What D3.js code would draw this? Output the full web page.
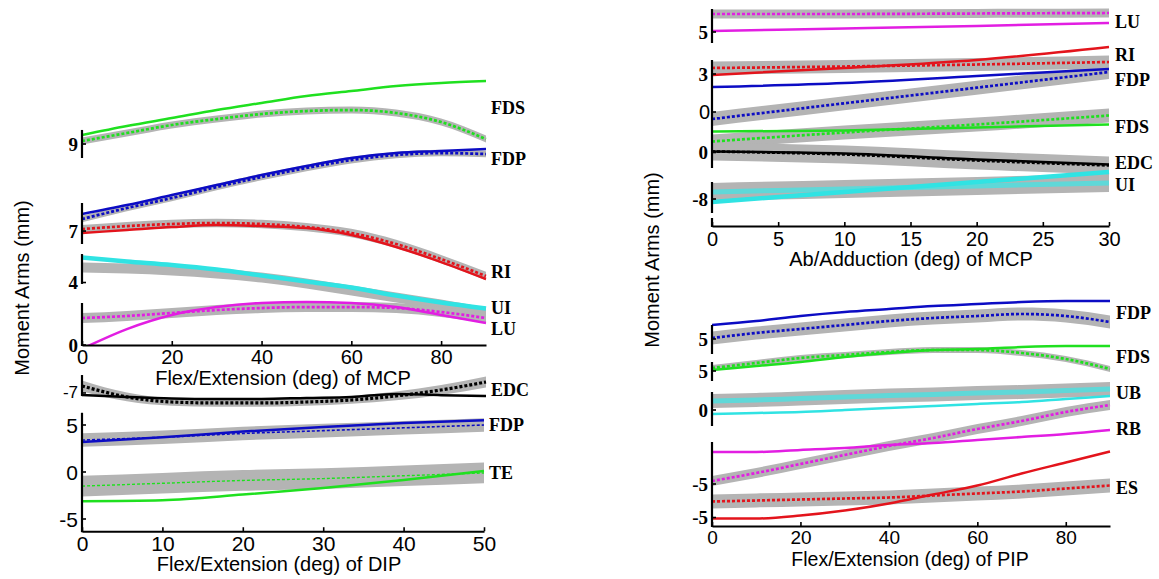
<!DOCTYPE html>
<html>
<head>
<meta charset="utf-8">
<script src="https://cdn.jsdelivr.net/npm/d3@7"></script>
<style>
  html, body { margin: 0; padding: 0; background: #fff; }
  svg { display: block; }
</style>
</head>
<body>
<svg id="chart" width="1159" height="579"></svg>
<script>
// ---------- joint angles (deg) ----------
const mcpFlexAngles = [0, 10, 20, 30, 40, 50, 60, 70, 80, 90];
const dipFlexAngles = [0, 10, 20, 30, 40, 50];
const mcpAbdAngles  = [0, 10, 20, 30];
const pipFlexAngles = [0, 10, 20, 30, 40, 50, 60, 70, 80, 90];

// ---------- MCP flexion/extension: model (solid) and measured mean (dashed) ± SD, mm ----------
const mcpFlex_FDS_model = [9.82, 10.64, 11.36, 12.09, 12.73, 13.36, 13.82, 14.27, 14.55, 14.73];
const mcpFlex_FDS_mean  = [9.27, 10.0, 10.73, 11.27, 11.73, 12.0, 12.09, 11.82, 11.0, 9.45];
const mcpFlex_FDS_sd    = 0.32;
const mcpFlex_FDP_model = [8.55, 9.36, 10.27, 11.18, 12.09, 12.91, 13.64, 14.09, 14.27, 14.45];
const mcpFlex_FDP_mean  = [8.09, 9.09, 10.0, 11.0, 11.91, 12.73, 13.45, 13.91, 14.09, 14.0];
const mcpFlex_FDP_sd    = 0.3;
const mcpFlex_RI_model  = [6.82, 7.09, 7.36, 7.55, 7.45, 7.27, 6.64, 5.55, 4.18, 2.64];
const mcpFlex_RI_mean   = [7.18, 7.45, 7.64, 7.73, 7.64, 7.36, 6.82, 5.82, 4.45, 2.91];
const mcpFlex_RI_sd     = 0.38;
const mcpFlex_UI_model  = [6.27, 5.91, 5.59, 5.18, 4.64, 4.09, 3.55, 2.82, 2.18, 1.64];
const mcpFlex_UI_mean   = [5.36, 5.27, 5.09, 4.82, 4.45, 3.91, 3.27, 2.64, 2.0, 1.27];
const mcpFlex_UI_sd     = 0.45;
const mcpFlex_LU_model  = [-0.35, 1.45, 2.73, 3.45, 3.82, 3.91, 3.82, 3.45, 2.73, 2.0];
const mcpFlex_LU_mean   = [2.45, 2.64, 2.91, 3.18, 3.36, 3.45, 3.45, 3.36, 3.0, 2.45];
const mcpFlex_LU_sd     = 0.45;
const mcpFlex_EDC_model = [-7.18, -7.36, -7.5, -7.55, -7.55, -7.45, -7.36, -7.09, -7.2, -7.27];
const mcpFlex_EDC_mean  = [-6.36, -7.36, -7.82, -7.91, -7.91, -7.82, -7.64, -7.27, -6.73, -6.0];
const mcpFlex_EDC_sd    = [0.5, 0.4, 0.35, 0.35, 0.35, 0.35, 0.35, 0.4, 0.45, 0.5];

// ---------- DIP flexion/extension ----------
const dipFlex_FDP_model = [3.2, 3.7, 4.3, 4.8, 5.2, 5.5];
const dipFlex_FDP_mean  = [3.4, 3.7, 4.1, 4.4, 4.7, 5.0];
const dipFlex_FDP_sd    = 0.72;
const dipFlex_TE_model  = [-3.1, -3.0, -2.4, -1.7, -0.85, 0.1];
const dipFlex_TE_mean   = [-1.5, -1.2, -0.9, -0.7, -0.4, -0.1];
const dipFlex_TE_sd     = 1.1;

// ---------- MCP ab/adduction ----------
const mcpAbd_LU_model  = [5.1, 5.35, 5.6, 5.9];
const mcpAbd_LU_mean   = [6.8, 6.8, 6.85, 6.9];
const mcpAbd_LU_sd     = 0.45;
const mcpAbd_RI_model  = [2.9, 3.6, 4.4, 5.7];
const mcpAbd_RI_mean   = [3.6, 3.75, 3.95, 4.2];
const mcpAbd_RI_sd     = 0.65;
const mcpAbd_FDP_model = [2.5, 2.9, 3.6, 4.3];
const mcpAbd_FDP_mean  = [-0.7, 0.87, 2.43, 4.0];
const mcpAbd_FDP_sd    = 0.7;
const mcpAbd_FDS_model = [2.1, 2.2, 2.5, 2.8];
const mcpAbd_FDS_mean  = [1.1, 2.0, 2.8, 3.7];
const mcpAbd_FDS_sd    = 0.7;
const mcpAbd_EDC_model = [0.1, -0.1, -0.7, -1.2];
const mcpAbd_EDC_mean  = [0.1, -0.2, -0.8, -1.3];
const mcpAbd_EDC_sd    = 0.9;
const mcpAbd_UI_model  = [-8.3, -7.3, -6.3, -5.3];
const mcpAbd_UI_mean   = [-7.3, -7.0, -6.7, -6.4];
const mcpAbd_UI_sd     = 0.9;

// ---------- PIP flexion/extension ----------
const pipFlex_FDP_model = [6.4, 6.8, 7.3, 7.7, 8.0, 8.3, 8.5, 8.7, 8.8, 8.8];
const pipFlex_FDP_mean  = [5.1, 5.6, 6.0, 6.4, 6.8, 7.1, 7.3, 7.5, 7.3, 6.7];
const pipFlex_FDP_sd    = 0.65;
const pipFlex_FDS_model = [5.1, 5.5, 5.9, 6.4, 6.8, 7.1, 7.2, 7.4, 7.5, 7.5];
const pipFlex_FDS_mean  = [5.3, 5.8, 6.3, 6.6, 6.9, 7.1, 7.1, 6.8, 6.2, 5.2];
const pipFlex_FDS_sd    = 0.3;
const pipFlex_UB_model  = [-0.4, -0.3, -0.2, 0.0, 0.2, 0.4, 0.6, 0.8, 1.1, 1.4];
const pipFlex_UB_mean   = [0.9, 1.0, 1.15, 1.3, 1.45, 1.55, 1.7, 1.8, 1.95, 2.1];
const pipFlex_UB_sd     = 0.7;
const pipFlex_RB_model  = [-1.8, -1.8, -1.6, -1.4, -1.1, -0.9, -0.6, -0.3, 0.0, 0.4];
const pipFlex_RB_mean   = [-4.7, -3.9, -3.0, -2.1, -1.2, -0.4, 0.5, 1.3, 2.2, 2.9];
const pipFlex_RB_sd     = 0.5;
const pipFlex_ES_model  = [-5.1, -5.1, -4.8, -4.3, -3.6, -2.7, -1.8, -0.6, 0.5, 1.6];
const pipFlex_ES_mean   = [-3.4, -3.3, -3.2, -3.1, -3.0, -2.8, -2.6, -2.4, -2.1, -1.8];
const pipFlex_ES_sd     = 0.7;

// ---------- axis tick labels ----------
const mcpFlexTicks = [0, 20, 40, 60, 80];
const dipFlexTicks = [0, 10, 20, 30, 40, 50];
const mcpAbdTicks  = [0, 5, 10, 15, 20, 25, 30];
const pipFlexTicks = [0, 20, 40, 60, 80];
const dipYTicks    = [-5, 0, 5];

const axisTitles = {
  mcpFlex: "Flex/Extension (deg) of MCP",
  dipFlex: "Flex/Extension (deg) of DIP",
  mcpAbd:  "Ab/Adduction (deg) of MCP",
  pipFlex: "Flex/Extension (deg) of PIP"
};
const yTitle = "Moment Arms (mm)";

// ---------- colours & fonts ----------
const C = {
  green: "#1fe01f", blue: "#0c0cc4", red: "#e3141c", magenta: "#e21ee2",
  cyan: "#30e3e3", cyanMean: "#5fd8d8", black: "#000000", band: "#b4b4b4"
};
const SANS = "'Liberation Sans', Arial, Helvetica, sans-serif";
const SERIF = "'Liberation Serif', 'Times New Roman', Times, serif";

// ---------- panel layout (pixel frame, stacked y-scale: yBase - k * s) ----------
const panels = {
  mcpFlex: { xRange: [82, 486], xDomain: [0, 90], ticks: mcpFlexTicks, yBase: 345, k: 11,
             axisAt: 0, tickFont: 20, tickPad: 5, clipBottom: 345, titleFont: 20,
             title: [283, 378], segments: [[17.09, 19.55], [9.27, 12.91], [5.64, 8.27], [0, 3.82], [-4.55, -2.73]] },
  dipFlex: { xRange: [82, 484], xDomain: [0, 50], ticks: dipFlexTicks, yBase: 472, k: 9.4,
             axisAt: -6.3, tickFont: 21, tickPad: 5, clipBottom: 532, titleFont: 20,
             title: [279, 564], segments: [[-6.3, 6.3]] },
  mcpAbd:  { xRange: [712, 1109], xDomain: [0, 30], ticks: mcpAbdTicks, yBase: 226, k: 10,
             axisAt: 0, tickFont: 20, tickPad: 6, clipBottom: 226, titleFont: 20,
             title: [911, 259], segments: [[18.4, 21.7], [5.9, 16.6], [1.4, 4.4], [0, 0.8]] },
  pipFlex: { xRange: [712, 1110], xDomain: [0, 90], ticks: pipFlexTicks, yBase: 526, k: 10,
             axisAt: 0, tickFont: 19, tickPad: 5, clipBottom: 526, titleFont: 19.5,
             title: [910, 559], segments: [[17.3, 20.1], [14.6, 16.4], [10.1, 13.4], [0, 8.4]] }
};

// muscle groups: stacking offset (mm), the labelled tick, and where the name sits (stacked units)
const groups = [
  { panel: "mcpFlex", id: "FDS", offset: 9.27, tick: 9,  tickStyle: "serif", name: "FDS", nameAt: 21.55 },
  { panel: "mcpFlex", id: "FDP", offset: 3.36, tick: 7,  tickStyle: "serif", name: "FDP", nameAt: 16.9 },
  { panel: "mcpFlex", id: "RI",  offset: 3.36, tick: null, name: "RI", nameAt: 6.64 },
  { panel: "mcpFlex", id: "UI",  offset: 1.68, tick: 4,  tickStyle: "serif", name: "UI", nameAt: 3.36 },
  { panel: "mcpFlex", id: "LU",  offset: 0,    tick: 0,  tickStyle: "serif", name: "LU", nameAt: 1.45 },
  { panel: "mcpFlex", id: "EDC", offset: 2.64, tick: -7, tickStyle: "sansSmall", name: "EDC", nameAt: -4.09, noClip: true },
  { panel: "dipFlex", id: "FDP", offset: 0, tick: null, name: "FDP", nameAt: 5.0 },
  { panel: "dipFlex", id: "TE",  offset: 0, tick: null, name: "TE", nameAt: -0.1 },
  { panel: "mcpAbd", id: "LU",  offset: 14.4, tick: 5,  tickStyle: "serif", name: "LU",  nameAt: 20.4 },
  { panel: "mcpAbd", id: "RI",  offset: 12.2, tick: 3,  tickStyle: "serif", name: "RI",  nameAt: 17.1 },
  { panel: "mcpAbd", id: "FDP", offset: 11.4, tick: 0,  tickStyle: "sans",  name: "FDP", nameAt: 14.6 },
  { panel: "mcpAbd", id: "FDS", offset: 7.35, tick: 0,  tickStyle: "serif", name: "FDS", nameAt: 9.9 },
  { panel: "mcpAbd", id: "EDC", offset: 7.35, tick: null, name: "EDC", nameAt: 6.3 },
  { panel: "mcpAbd", id: "UI",  offset: 10.7, tick: -8, tickStyle: "serif", name: "UI",  nameAt: 4.1 },
  { panel: "pipFlex", id: "FDP", offset: 13.7, tick: 5,  tickStyle: "serif", name: "FDP", nameAt: 21.3 },
  { panel: "pipFlex", id: "FDS", offset: 10.5, tick: 5,  tickStyle: "serif", name: "FDS", nameAt: 16.9 },
  { panel: "pipFlex", id: "UB",  offset: 11.6, tick: 0,  tickStyle: "serif", name: "UB",  nameAt: 13.3 },
  { panel: "pipFlex", id: "RB",  offset: 9.2,  tick: -5, tickStyle: "serif", name: "RB",  nameAt: 9.7 },
  { panel: "pipFlex", id: "ES",  offset: 5.85, tick: -5, tickStyle: "serif", name: "ES",  nameAt: 3.8 }
];

// series table built from the named arrays
const series = [
  { panel: "mcpFlex", group: "FDS", x: mcpFlexAngles, model: mcpFlex_FDS_model, mean: mcpFlex_FDS_mean, sd: mcpFlex_FDS_sd, color: C.green },
  { panel: "mcpFlex", group: "FDP", x: mcpFlexAngles, model: mcpFlex_FDP_model, mean: mcpFlex_FDP_mean, sd: mcpFlex_FDP_sd, color: C.blue },
  { panel: "mcpFlex", group: "RI",  x: mcpFlexAngles, model: mcpFlex_RI_model,  mean: mcpFlex_RI_mean,  sd: mcpFlex_RI_sd,  color: C.red },
  { panel: "mcpFlex", group: "UI",  x: mcpFlexAngles, model: mcpFlex_UI_model,  mean: mcpFlex_UI_mean,  sd: mcpFlex_UI_sd,  color: C.cyan, meanLine: "none", modelWidth: 4.5 },
  { panel: "mcpFlex", group: "LU",  x: mcpFlexAngles, model: mcpFlex_LU_model,  mean: mcpFlex_LU_mean,  sd: mcpFlex_LU_sd,  color: C.magenta },
  { panel: "mcpFlex", group: "EDC", x: mcpFlexAngles, model: mcpFlex_EDC_model, mean: mcpFlex_EDC_mean, sd: mcpFlex_EDC_sd, color: C.black, meanWidth: 3.2 },
  { panel: "dipFlex", group: "FDP", x: dipFlexAngles, model: dipFlex_FDP_model, mean: dipFlex_FDP_mean, sd: dipFlex_FDP_sd, color: C.blue, meanWidth: 1.6 },
  { panel: "dipFlex", group: "TE",  x: dipFlexAngles, model: dipFlex_TE_model,  mean: dipFlex_TE_mean,  sd: dipFlex_TE_sd,  color: C.green, meanWidth: 1.4 },
  { panel: "mcpAbd", group: "LU",  x: mcpAbdAngles, model: mcpAbd_LU_model,  mean: mcpAbd_LU_mean,  sd: mcpAbd_LU_sd,  color: C.magenta },
  { panel: "mcpAbd", group: "RI",  x: mcpAbdAngles, model: mcpAbd_RI_model,  mean: mcpAbd_RI_mean,  sd: mcpAbd_RI_sd,  color: C.red },
  { panel: "mcpAbd", group: "FDP", x: mcpAbdAngles, model: mcpAbd_FDP_model, mean: mcpAbd_FDP_mean, sd: mcpAbd_FDP_sd, color: C.blue },
  { panel: "mcpAbd", group: "FDS", x: mcpAbdAngles, model: mcpAbd_FDS_model, mean: mcpAbd_FDS_mean, sd: mcpAbd_FDS_sd, color: C.green },
  { panel: "mcpAbd", group: "EDC", x: mcpAbdAngles, model: mcpAbd_EDC_model, mean: mcpAbd_EDC_mean, sd: mcpAbd_EDC_sd, color: C.black },
  { panel: "mcpAbd", group: "UI",  x: mcpAbdAngles, model: mcpAbd_UI_model,  mean: mcpAbd_UI_mean,  sd: mcpAbd_UI_sd,  color: C.cyan, meanLine: "thick", modelWidth: 4.5 },
  { panel: "pipFlex", group: "FDP", x: pipFlexAngles, model: pipFlex_FDP_model, mean: pipFlex_FDP_mean, sd: pipFlex_FDP_sd, color: C.blue },
  { panel: "pipFlex", group: "FDS", x: pipFlexAngles, model: pipFlex_FDS_model, mean: pipFlex_FDS_mean, sd: pipFlex_FDS_sd, color: C.green },
  { panel: "pipFlex", group: "UB",  x: pipFlexAngles, model: pipFlex_UB_model,  mean: pipFlex_UB_mean,  sd: pipFlex_UB_sd,  color: C.cyan, meanLine: "thick" },
  { panel: "pipFlex", group: "RB",  x: pipFlexAngles, model: pipFlex_RB_model,  mean: pipFlex_RB_mean,  sd: pipFlex_RB_sd,  color: C.magenta },
  { panel: "pipFlex", group: "ES",  x: pipFlexAngles, model: pipFlex_ES_model,  mean: pipFlex_ES_mean,  sd: pipFlex_ES_sd,  color: C.red }
];

// ---------- drawing ----------
const svg = d3.select("#chart");
svg.append("rect").attr("width", 1159).attr("height", 579).attr("fill", "#fff");
const defs = svg.append("defs");

Object.entries(panels).forEach(([key, p]) => {
  p.x = d3.scaleLinear().domain(p.xDomain).range(p.xRange);
  p.y = d3.scaleLinear().domain([0, 10]).range([p.yBase, p.yBase - 10 * p.k]);
  p.g = svg.append("g").attr("class", "panel-" + key);
  defs.append("clipPath").attr("id", "clip-" + key)
    .append("rect")
    .attr("x", p.xRange[0]).attr("y", 0)
    .attr("width", p.xRange[1] - p.xRange[0] + 1)
    .attr("height", p.clipBottom);
  p.bandLayer = p.g.append("g");
  p.lineLayer = p.g.append("g");
});

const groupOf = (panel, id) => groups.find(g => g.panel === panel && g.id === id);

series.forEach(s => {
  const p = panels[s.panel];
  const grp = groupOf(s.panel, s.group);
  const off = grp.offset;
  const sdAt = i => Array.isArray(s.sd) ? s.sd[i] : s.sd;
  const pts = s.x.map((a, i) => ({ a, m: s.model[i], e: s.mean[i], sd: sdAt(i) }));
  const clip = grp.noClip ? null : "url(#clip-" + s.panel + ")";

  // ± SD band around the measured mean
  const area = d3.area()
    .x(d => p.x(d.a))
    .y0(d => p.y(d.e - d.sd + off))
    .y1(d => p.y(d.e + d.sd + off))
    .curve(d3.curveMonotoneX);
  p.bandLayer.append("path").datum(pts)
    .attr("d", area).attr("fill", C.band).attr("clip-path", clip);

  const meanLine = d3.line().x(d => p.x(d.a)).y(d => p.y(d.e + off)).curve(d3.curveMonotoneX);
  const modelLine = d3.line().x(d => p.x(d.a)).y(d => p.y(d.m + off)).curve(d3.curveMonotoneX);

  if (s.meanLine === "thick") {
    p.lineLayer.append("path").datum(pts).attr("d", meanLine)
      .attr("fill", "none").attr("stroke", C.cyanMean).attr("stroke-width", 5).attr("clip-path", clip);
  } else if (s.meanLine !== "none") {
    p.lineLayer.append("path").datum(pts).attr("d", meanLine)
      .attr("fill", "none").attr("stroke", s.color)
      .attr("stroke-width", s.meanWidth || 2.7)
      .attr("stroke-dasharray", "3,2").attr("clip-path", clip);
  }
  p.lineLayer.append("path").datum(pts).attr("d", modelLine)
    .attr("fill", "none").attr("stroke", s.color)
    .attr("stroke-width", s.modelWidth || 2.5).attr("clip-path", clip);
});

// axes
Object.entries(panels).forEach(([key, p]) => {
  const axisY = p.y(p.axisAt);
  const ax = d3.axisBottom(p.x).tickValues(p.ticks).tickSizeInner(-4).tickSizeOuter(0)
    .tickPadding(p.tickPad).tickFormat(d3.format("d"));
  const axG = p.g.append("g").attr("transform", `translate(0,${axisY})`).call(ax);
  axG.select(".domain").attr("stroke", "#000").attr("stroke-width", 2);
  axG.selectAll(".tick line").attr("stroke", "#000").attr("stroke-width", 1.6);
  axG.selectAll(".tick text").attr("font-family", SANS).attr("font-size", p.tickFont).attr("fill", "#000");
  axG.attr("font-family", null).attr("font-size", null);

  // broken y-axis segments
  p.segments.forEach(([lo, hi]) => {
    p.g.append("line")
      .attr("x1", p.xRange[0]).attr("x2", p.xRange[0])
      .attr("y1", p.y(lo) + 1).attr("y2", p.y(hi))
      .attr("stroke", "#000").attr("stroke-width", 2.2);
  });

  // x-axis title
  p.g.append("text")
    .attr("x", p.title[0]).attr("y", p.title[1])
    .attr("text-anchor", "middle").attr("dominant-baseline", "central")
    .attr("font-family", SANS).attr("font-size", p.titleFont).attr("fill", "#000")
    .text(axisTitles[key]);
});

// DIP panel ordinary y ticks
{
  const p = panels.dipFlex;
  dipYTicks.forEach(t => {
    p.g.append("line").attr("x1", p.xRange[0]).attr("x2", p.xRange[0] + 4)
      .attr("y1", p.y(t)).attr("y2", p.y(t)).attr("stroke", "#000").attr("stroke-width", 1.6);
    p.g.append("text").attr("x", 78).attr("y", p.y(t))
      .attr("text-anchor", "end").attr("dominant-baseline", "central")
      .attr("font-family", SANS).attr("font-size", 21).attr("fill", "#000")
      .text(t);
  });
}

// group tick labels and muscle names
groups.forEach(g => {
  const p = panels[g.panel];
  if (g.tick !== null) {
    const yy = p.y(g.tick + g.offset);
    const labelX = p.xRange[0] - 4;
    p.g.append("line").attr("x1", p.xRange[0]).attr("x2", p.xRange[0] + 4)
      .attr("y1", yy).attr("y2", yy).attr("stroke", "#000").attr("stroke-width", 1.6);
    const t = p.g.append("text").attr("x", labelX).attr("y", yy)
      .attr("text-anchor", "end").attr("dominant-baseline", "central").attr("fill", "#000")
      .text(g.tick);
    if (g.tickStyle === "serif") {
      t.attr("font-family", SERIF).attr("font-weight", "bold").attr("font-size", 19);
    } else if (g.tickStyle === "sans") {
      t.attr("font-family", SANS).attr("font-size", 20).attr("x", labelX + 2);
    } else {
      t.attr("font-family", SANS).attr("font-size", 17);
    }
  }
  p.g.append("text")
    .attr("x", p.xRange[1] + (g.panel === "mcpFlex" || g.panel === "dipFlex" ? 5 : 6))
    .attr("y", p.y(g.nameAt))
    .attr("dominant-baseline", "central")
    .attr("font-family", SERIF).attr("font-weight", "bold").attr("font-size", 18).attr("fill", "#000")
    .text(g.name);
});

// y-axis titles
[[22, 288], [652, 260]].forEach(([x, y]) => {
  svg.append("text")
    .attr("transform", `translate(${x},${y}) rotate(-90)`)
    .attr("text-anchor", "middle").attr("dominant-baseline", "central")
    .attr("font-family", SANS).attr("font-size", 20).attr("fill", "#000")
    .text(yTitle);
});
</script>
</body>
</html>
